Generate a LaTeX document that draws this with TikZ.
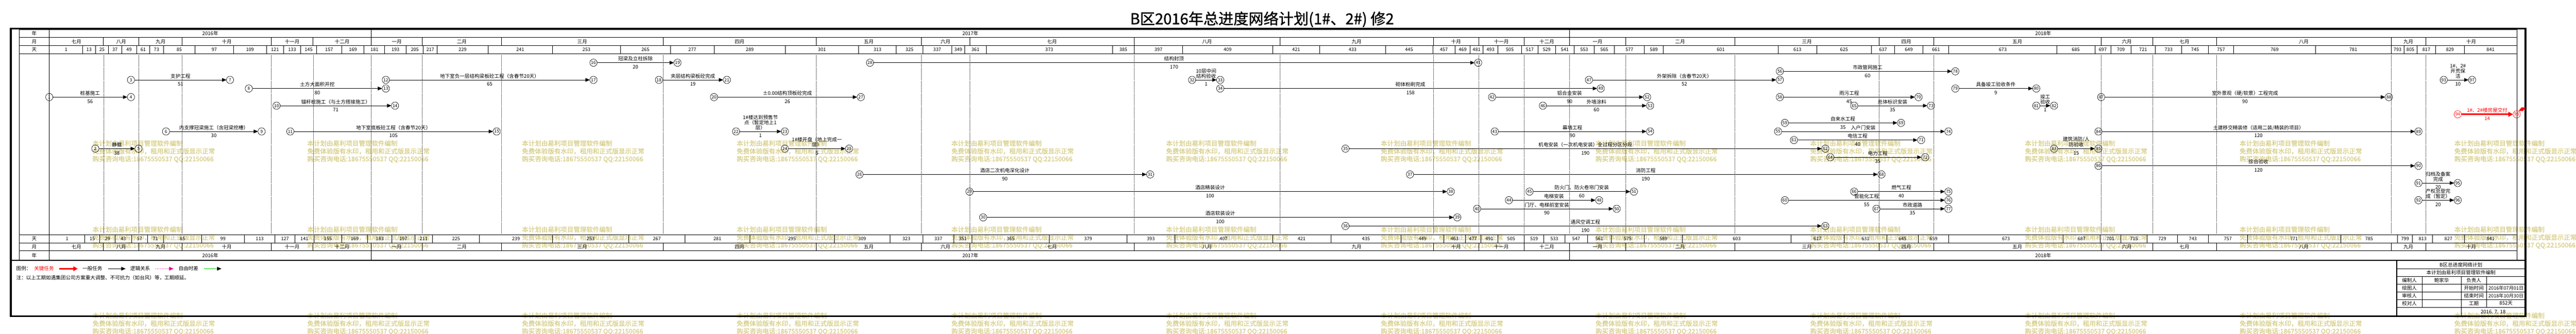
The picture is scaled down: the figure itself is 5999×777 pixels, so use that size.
\documentclass[tikz,border=0pt]{standalone}
\usepackage{fontspec}
\setmainfont{Noto Sans CJK SC}
\newfontfamily\wmfont{Noto Sans CJK SC}[FakeBold=1]
\newfontfamily\ttlfont{Noto Sans CJK SC}[FakeBold=1.2]
\usetikzlibrary{arrows.meta,calc,decorations.pathmorphing}
\definecolor{wm}{RGB}{213,204,133}
\def\TX{{115,192.4,222.3,252.7,283,318.3,348.6,380.3,454.4,543.7,620.5,660.2,700.3,737,796,848,896,946,986,1018,1136.5,1286.5,1445,1561,1663.6,1828.6,1999.5,2087.3,2148.7,2216.4,2246.6,2296.4,2590.6,2641.5,2754.2,2963.4,3073.5,3226.4,3336.5,3388.4,3423.9,3453.5,3488.4,3543.5,3581.6,3622.4,3665.9,3712.5,3759.6,3829.4,3873.4,4141.2,4230.6,4358.2,4412.2,4478.3,4538.6,4789.8,4878.2,4915.7,4962.3,5019.6,5080.7,5142.8,5201.8,5392.3,5568.4,5598.2,5628.5,5672.2,5738.7,5861}}
\newcommand\act[4]{%
  \draw[arr] (n#1) -- (n#2);
  \node[lab] at ($(n#1.center)!.5!(n#2.center)+(0,-3)$) {#3};
  \node[dur] at ($(n#1.center)!.5!(n#2.center)+(0,14)$) {#4};
}
\begin{document}
\begin{tikzpicture}[x=1pt,y=-1pt,
  every node/.style={inner sep=0pt,outer sep=0pt},
  ev/.style={circle,draw,minimum size=17pt,line width=0.8pt,font=\fontsize{10}{10}\selectfont},
  evc/.style={ev,draw=red,text=red},
  arr/.style={line width=0.9pt,-{Triangle[length=10pt,width=8.5pt]}},
  carr/.style={line width=3.2pt,red,-{Triangle[length=11pt,width=11pt]}},
  lab/.style={font=\fontsize{11.5}{11.7}\selectfont,align=center,anchor=south,text depth=1.5pt},
  dur/.style={font=\fontsize{11.5}{12}\selectfont,anchor=base},
  hdr/.style={font=\fontsize{11.5}{12}\selectfont},
  dnum/.style={font=\fontsize{11}{12}\selectfont},
  wmk/.style={font=\wmfont\fontsize{15}{18}\selectfont,text=wm,anchor=west},
  gline/.style={line width=0.9pt},
  mline/.style={line width=0.8pt,dash pattern=on 1pt off 1.5pt},
]
\useasboundingbox (0,0) rectangle (5999,777);
% watermarks
\foreach \wx in {215.6,715.6,1215.6,1715.6,2215.6,2715.6,3215.6,3715.6,4215.6,4715.6,5215.6,5715.6}
 \foreach \wy in {333.5,534,734.5} {
  \node[wmk] (w1) at (\wx,\wy) {本计划由易利项目管理软件编制};
  \node[wmk] (w2) at (\wx,\wy+18.5) {免费体验版有水印，租用和正式版显示正常};
  \node[wmk] (w3) at (\wx,\wy+37) {购买咨询电话:18675550537 QQ:22150066};
 }
% title
\node[font=\ttlfont\fontsize{35}{35}\selectfont] (title) at (2939,45) {B区2016年总进度网络计划(1\#、2\#) 修2};
% frames
\draw[line width=4.5pt] (25.5,66.5) rectangle (5881.5,736);
\draw[gline] (44.6,69) rectangle (5861,605);
\draw[line width=2.5pt] (25.5,605.5) -- (5881.5,605.5);
\foreach \yy in {87.3,106.3,125.3,546,565,584} \draw[gline] (44.6,\yy) -- (5861,\yy);
\draw[gline] (115,69) -- (115,605);
\foreach \b in {864.3,3655.3} {\draw[gline] (\b,69) -- (\b,87.3); \draw[gline] (\b,584) -- (\b,605);}
\node[hdr] (ly1) at (79.8,78) {年};
\node[hdr] (lm1) at (79.8,96.8) {月};
\node[hdr] (ld1) at (79.8,115.8) {天};
\node[hdr] (ld2) at (79.8,555.5) {天};
\node[hdr] (lm2) at (79.8,574.5) {月};
\node[hdr] (ly2) at (79.8,594.5) {年};
\foreach \yx/\yt in {489.7/2016年,2259.8/2017年,4758.2/2018年} {
  \node[hdr] at (\yx,78) {\yt};
  \node[hdr] at (\yx,594.5) {\yt};
}
% months
\foreach \a/\b/\m in {115/241/七月,241/323.6/八月,323.6/424.5/九月,424.5/631.7/十月,631.7/729.3/十一月,729.3/864.3/十二月,864.3/983.6/一月,983.6/1167.3/二月,1167.3/1544.4/三月,1544.4/1900.4/四月,1900.4/2145.5/五月,2145.5/2258.2/六月,2258.2/2641.5/七月,2641.5/2980.3/八月,2980.3/3338.1/九月,3338.1/3443.5/十月,3443.5/3549.3/十一月,3549.3/3655.3/十二月,3655.3/3785.5/一月,3785.5/4039.6/二月,4039.6/4376.2/三月,4376.2/4502.7/四月,4502.7/4893.2/五月,4893.2/5012.7/六月,5012.7/5161.6/七月,5161.6/5568.4/八月,5568.4/5648.6/九月,5648.6/5861/十月} {
  \node[hdr] at ({(\a+\b)/2},96.8) {\m};
  \node[hdr] at ({(\a+\b)/2},574.5) {\m};
  \ifdim\b pt<5860pt
    \draw[gline] (\b,87.3) -- (\b,106.3);
    \draw[gline] (\b,565) -- (\b,584);
    \draw[mline] (\b,125.3) -- (\b,546);
  \fi
}
% top day row
\foreach \i in {0,...,70} {
  \pgfmathtruncatemacro\ip{\i+1}
  \pgfmathsetmacro\xa{\TX[\i]}
  \pgfmathsetmacro\xb{\TX[\ip]}
  \pgfmathtruncatemacro\dd{1+12*\i}
  \draw[gline] (\xb,106.3) -- (\xb,125.3);
  \node[dnum] at ({(\xa+\xb)/2},115.8) {\dd};
}
% bottom day row
\foreach \k in {0,...,60} {
  \pgfmathtruncatemacro\ia{div(14*\k,12)}
  \pgfmathtruncatemacro\ra{mod(14*\k,12)}
  \pgfmathtruncatemacro\iap{\ia+1}
  \pgfmathsetmacro\xa{\TX[\ia]+\ra/12*(\TX[\iap]-\TX[\ia])}
  \ifnum\k<60
    \pgfmathtruncatemacro\ib{div(14*\k+14,12)}
    \pgfmathtruncatemacro\rb{mod(14*\k+14,12)}
    \pgfmathtruncatemacro\ibp{\ib+1}
    \pgfmathsetmacro\xb{\TX[\ib]+\rb/12*(\TX[\ibp]-\TX[\ib])}
  \else
    \def\xb{5861}
  \fi
  \pgfmathtruncatemacro\dd{1+14*\k}
  \draw[gline] (\xb,546) -- (\xb,565);
  \node[dnum] at ({(\xa+\xb)/2},555.5) {\dd};
}
% event nodes
\foreach \n/\x/\y in {1/114.7/226,2/221.9/346,3/305/186,4/305/226,5/322.7/346,6/386.6/306,7/535.7/186,8/579.4/206,9/609.3/306,10/644/246,11/676/306,12/898.5/186,13/898.5/206,14/919.9/246,15/1156.6/306,16/1382/146,17/1382/186,18/1534.6/186,19/1577.8/146,20/1662.8/226,21/1692.7/186,22/1714/306,23/1827.7/306,24/1827.7/346,25/1977.3/346,26/2001.6/406,27/2004.6/226,28/2025.9/146,29/2257.7/446,30/2289.5/506,31/2678.5/406,32/2776/186,33/2841.6/186,34/2841.6/206,35/3133.3/346,36/3133.3/526,37/3283.6/406,38/3378.4/446,39/3393.7/506,40/3439.8/486,41/3442.4/146,42/3474.7/226,43/3481/306,44/3513.9/466,45/3562/446,46/3593/246,47/3700.3/186,48/3724/466,49/3727.8/206,50/3764.9/486,51/3805/446,52/3835.8/226,53/3842.7/246,54/3842.7/306,55/4140.7/306,56/4144.9/166,57/4144.9/186,58/4144.9/226,59/4156.5/286,60/4156.5/466,61/4177.7/326,62/4250.8/346,63/4250.8/526,64/4262.4/366,65/4318/246,66/4318/446,67/4369.8/486,68/4381.5/406,69/4427/286,70/4467.8/226,71/4474/326,72/4483.4/366,73/4496.8/246,74/4537.5/306,75/4537.5/446,76/4537.5/466,77/4537.5/486,78/4553.6/166,79/4553.6/206,80/4742.1/206,81/4742.1/246,82/4783.4/246,83/4783.4/346,84/4886.8/306,85/4886.8/346,86/4886.8/386,87/4893.2/226,88/5563/226,89/5632.1/306,90/5632.1/386,91/5632.1/426,92/5632.1/466,93/5691/186,95/5723.5/426,96/5723.5/466,97/5757/186}
  \node[ev] (n\n) at (\x,\y) {\n};
\node[evc] (n94) at (5723.5,266) {94};
\node[evc] (n98) at (5860.8,266) {98};
% activities
\act{1}{4}{桩基施工}{56}
\act{3}{7}{支护工程}{51}
\act{8}{13}{土方大面积开挖}{80}
\act{10}{14}{锚杆桩施工（与土方搭接施工）}{71}
\act{6}{9}{内支撑冠梁施工（含冠梁挖槽）}{30}
\act{11}{15}{地下室底板砼工程（含春节20天）}{105}
\act{2}{5}{静载}{38}
\act{12}{17}{地下室负一层结构梁板砼工程（含春节20天）}{65}
\act{16}{19}{冠梁及立柱拆除}{20}
\act{18}{21}{夹层结构梁板砼完成}{19}
\act{20}{27}{±0.00结构顶板砼完成}{26}
\act{22}{23}{1\#楼达到预售节\\点（暂定地上1\\层）}{1}
\act{24}{25}{1\#楼开盘（地上完成一\\层）}{5}
\act{26}{31}{酒店二次机电深化设计}{90}
\act{28}{41}{结构封顶}{170}
\act{32}{33}{10层中间\\结构验收}{1}
\act{34}{49}{砌体粉刷完成}{158}
\act{29}{38}{酒店精装设计}{100}
\act{30}{39}{酒店软装设计}{100}
\act{42}{52}{铝合金安装}{90}
\act{46}{53}{外墙涂料}{60}
\act{43}{54}{幕墙工程}{90}
\act{35}{62}{机电安装（一次机电安装）全过程分区分段}{190}
\act{37}{68}{消防工程}{190}
\act{45}{51}{防火门、防火卷帘门安装}{60}
\act{44}{48}{电梯安装}{}
\act{40}{50}{门厅、电梯前室安装}{90}
\act{36}{63}{通风空调工程}{190}
\act{47}{57}{外架拆除（含春节20天）}{52}
\act{56}{78}{市政管网施工}{60}
\act{58}{70}{雨污工程}{45}
\act{65}{73}{总体标识安装}{35}
\act{59}{69}{自来水工程}{35}
\act{55}{74}{入户门安装}{}
\act{61}{71}{电信工程}{40}
\act{64}{72}{电力工程}{35}
\act{66}{75}{燃气工程}{40}
\act{60}{76}{智能化工程}{55}
\act{67}{77}{市政道路}{35}
\act{79}{80}{具备竣工验收条件}{9}
\act{87}{88}{室外景观（硬/软景）工程完成}{90}
\act{81}{82}{竣工\\验收}{1}
\act{84}{89}{土建移交精装修（适用二装/精装的项目）}{120}
\act{83}{85}{建筑消防/人\\防验收}{15}
\act{86}{90}{综合验收}{120}
\act{93}{97}{1\#、2\#\\开荒保\\洁}{10}
\act{91}{95}{归档及备案\\完成}{20}
\act{92}{96}{产权总登完\\成（暂定）}{20}
% critical activity
\draw[carr] (n94) -- (n98);
\node[lab,text=red] (c1) at ($(n94.center)!.5!(n98.center)+(0,-3)$) {1\#、2\#楼房屋交付};
\node[dur,text=red] (c2) at ($(n94.center)!.5!(n98.center)+(0,14)$) {14};
\fill[red] (5872,250) -- (5882,250) -- (5875.3,258.3) -- (5865.3,258.3) -- cycle;
% legend
\node[hdr,anchor=west] (lg0) at (38,625) {图例：};
\node[hdr,anchor=west,text=red] (lg1) at (79.5,625) {关键任务};
\coordinate (a1) at (138.4,625.5); \coordinate (b1) at (180.8,625.5);
\draw[line width=4pt,red,-{Triangle[length=10pt,width=11pt]}] (a1) -- (b1);
\node[hdr,anchor=west] (lg2) at (192,625) {一般任务};
\coordinate (a2) at (252,625.5); \coordinate (b2) at (292.4,625.5);
\draw[arr] (a2) -- (b2);
\node[hdr,anchor=west] (lg3) at (303.5,625) {逻辑关系};
\coordinate (a3) at (362.5,625.5); \coordinate (b3) at (404,625.5);
\draw[magenta,line width=0.8pt,dash pattern=on 1pt off 2pt,-{Triangle[length=10pt,width=8.5pt]}] (a3) -- (b3);
\node[hdr,anchor=west] (lg4) at (416,625) {自由时差};
\coordinate (a4) at (475,625.5); \coordinate (b4) at (505,625.5); \coordinate (c4) at (515.6,625.5);
\draw[green!80!black,line width=0.8pt,decorate,decoration={snake,amplitude=1.3pt,segment length=5pt}] (a4) -- (b4);
\draw[arr] (b4) -- (c4);
\node[hdr,anchor=west] (note) at (38,646.7) {注：以上工期如遇集团公司方案重大调整、不可抗力（如台风）等，工期顺延。};
% title block
\draw[line width=2pt] (5581,605.5) -- (5581,736);
\foreach \yy in {625.7,643.3,661.7,679.3,697.3,715} \draw[gline] (5581,\yy) -- (5881.5,\yy);
\draw[gline] (5641,643.3) -- (5641,715);
\draw[gline] (5731.5,643.3) -- (5731.5,736);
\draw[gline] (5791,643.3) -- (5791,715);
\node[hdr] (t1) at (5731,616.2) {B区总进度网络计划};
\node[hdr] (t2) at (5731,634.5) {本计划由易利项目管理软件编制};
\node[hdr] (t3) at (5611,652.5) {编制人};
\node[hdr] (t4) at (5686,652.5) {鲍家华};
\node[hdr] (t5) at (5761,652.5) {负责人};
\node[hdr] (t6) at (5611,670.5) {绘图人};
\node[hdr] (t7) at (5761,670.5) {开始时间};
\node[dnum] (t8) at (5836,670.5) {2016年07月01日};
\node[hdr] (t9) at (5611,688.3) {审核人};
\node[hdr] (t10) at (5761,688.3) {结束时间};
\node[dnum] (t11) at (5836,688.3) {2018年10月30日};
\node[hdr] (t12) at (5611,706) {校对人};
\node[hdr] (t13) at (5761,706) {工期};
\node[hdr] (t14) at (5836,706) {852天};
\node[hdr] (t15) at (5806,725.5) {2016. 7. 18};
\end{tikzpicture}
\end{document}
